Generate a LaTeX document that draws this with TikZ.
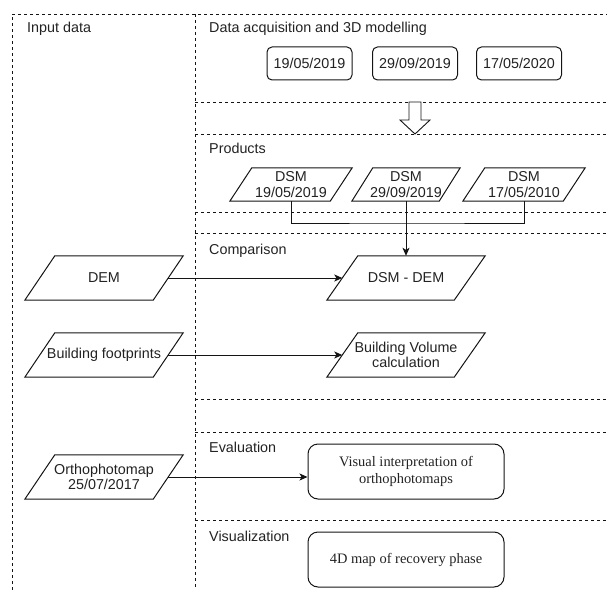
\documentclass[tikz,border=0pt]{standalone}
\usepackage{fontspec}
\setmainfont{Liberation Serif}
\newfontfamily\arialf{Liberation Sans}
\usetikzlibrary{arrows.meta,calc}
\definecolor{txt}{RGB}{34,34,34}
\definecolor{ln}{RGB}{20,20,20}
\tikzset{
  lane/.style={draw=ln, line width=0.8bp, dash pattern=on 3bp off 3bp},
  lbl/.style={anchor=base west, inner sep=0pt, font=\arialf\fontsize{14.4}{15.5}\selectfont, text=txt},
  parabox/.style={draw=none, inner sep=0pt, align=center, text=txt,
    font=\arialf\fontsize{14.4}{15.5}\selectfont},
  datebox/.style={draw=ln, line width=1bp, rounded corners=5bp, inner sep=0pt,
    minimum width=85bp, minimum height=33bp, text=txt,
    font=\arialf\fontsize{14.4}{15.5}\selectfont},
  serifbox/.style={draw=ln, line width=1bp, rounded corners=10bp, inner sep=0pt,
    minimum width=196bp, minimum height=55bp, align=center, text=txt,
    font=\fontsize{14.5}{17}\selectfont},
  shapeline/.style={draw=ln, line width=1bp, line join=miter},
  conn/.style={draw=ln, line width=1bp, -{Stealth[length=8bp,width=7bp,inset=2bp]}},
  plainconn/.style={draw=ln, line width=1bp},
}
\newcommand\paral[2]{\draw[shapeline] ([xshift=#2]#1.north west) -- (#1.north east) -- ([xshift=-#2]#1.south east) -- (#1.south west) -- cycle;}
\begin{document}
\begin{tikzpicture}[x=1bp,y=-1bp]
\useasboundingbox (0,0) rectangle (607,590);
% lanes
\draw[lane] (12,590) -- (12,14) -- (607,14);
\draw[lane] (195,14) -- (195,590);
\foreach \yy in {102,134.5,212.5,233.5,399.5,432.5,520.5}
  \draw[lane] (195,\yy) -- (607,\yy);
% lane titles
\node[lbl] (tin) at (27,33) {Input data};
\node[lbl] (tacq) at (209,33) {Data acquisition and 3D modelling};
\node[lbl] (tprod) at (209,154) {Products};
\node[lbl] (tcomp) at (209,254) {Comparison};
\node[lbl] (teval) at (209,452) {Evaluation};
\node[lbl] (tvis) at (209,541) {Visualization};
% dates
\node[datebox] (d1) at (309.5,63.5) {19/05/2019};
\node[datebox] (d2) at (415,63.5) {29/09/2019};
\node[datebox] (d3) at (519,63.5) {17/05/2020};
% block arrow
\coordinate (ba) at (415,102);
\draw[shapeline, fill=white, line width=0.9bp] ([xshift=-6bp]ba) -- ([xshift=6bp]ba) -- ([shift={(6,18)}]ba) -- ([shift={(15,18)}]ba) -- ([shift={(0,32)}]ba) -- ([shift={(-15,18)}]ba) -- ([shift={(-6,18)}]ba) -- cycle;
% products
\node[parabox, minimum width=122bp, minimum height=33bp] (p1) at (291,184.5) {DSM\\19/05/2019};
\node[parabox, minimum width=108bp, minimum height=33bp] (p2) at (406,184.5) {DSM\\29/09/2019};
\node[parabox, minimum width=122bp, minimum height=33bp] (p3) at (524,184.5) {DSM\\17/05/2010};
\paral{p1}{22bp}\paral{p2}{21bp}\paral{p3}{22bp}
% comparison
\node[parabox, minimum width=158bp, minimum height=44bp] (dem) at (104,278) {DEM};
\node[parabox, minimum width=158bp, minimum height=44bp] (bf) at (104,355) {Building footprints};
\node[parabox, minimum width=158bp, minimum height=44bp] (ortho) at (104,477) {Orthophotomap\\25/07/2017};
\node[parabox, minimum width=158bp, minimum height=44bp] (dd) at (406,278) {DSM - DEM};
\node[parabox, minimum width=158bp, minimum height=44bp] (bv) at (406,355) {Building Volume\\calculation};
\paral{dem}{30bp}\paral{bf}{30bp}\paral{ortho}{30bp}\paral{dd}{31bp}\paral{bv}{31bp}
% evaluation / visualization
\node[serifbox] (vis) at (406,471.5) {Visual interpretation of\\orthophotomaps};
\node[serifbox] (map) at (406,559.5) {4D map of recovery phase};
% connectors
\coordinate (jn) at (406,223);
\draw[plainconn] (p1.south) |- (jn) -| (p3.south);
\draw[conn] (p2.south) -- (dd.north);
\draw[conn] ([xshift=-15bp]dem.east) -- ([xshift=15.5bp]dd.west);
\draw[conn] ([xshift=-15bp]bf.east) -- ([xshift=15.5bp]bv.west);
\draw[conn] ([xshift=-15bp]ortho.east) -- (ortho.east -| vis.west);
\end{tikzpicture}
\end{document}
